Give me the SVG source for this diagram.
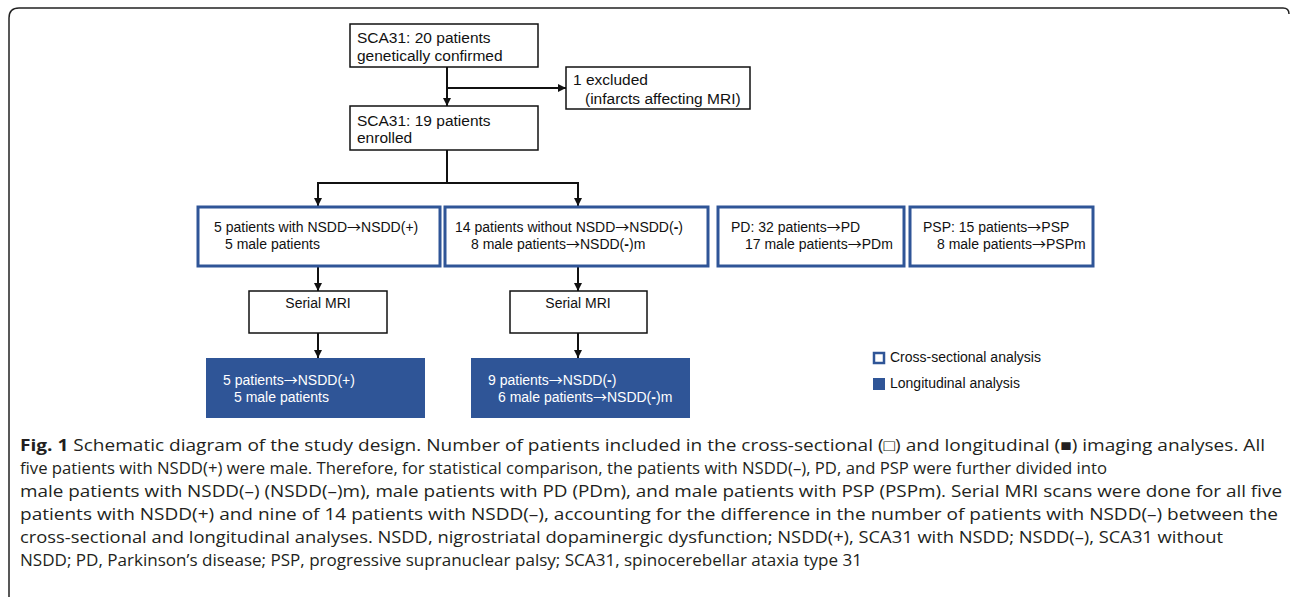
<svg xmlns="http://www.w3.org/2000/svg" width="1290" height="597" viewBox="0 0 1290 597">
<style>
.t{font-family:"Liberation Sans",Arial,sans-serif;font-size:14px;fill:#111}
.tl{font-family:"Liberation Sans",Arial,sans-serif;font-size:15.5px;fill:#111}
.w{font-family:"Liberation Sans",Arial,sans-serif;font-size:14px;fill:#fff}
.ar{font-family:"Noto Sans CJK JP",sans-serif;font-size:14px}
.box{fill:#fff;stroke:#111;stroke-width:1.5}
.bbox{fill:#fff;stroke:#2F5597;stroke-width:3}
.fbox{fill:#2F5597;stroke:none}
.con{stroke:#111;stroke-width:2;fill:none}
.cap{font-family:"Open Sans","Noto Sans",sans-serif;font-size:16px;fill:#231f20}
</style>
<defs>
<marker id="ah" markerWidth="8" markerHeight="8" refX="8" refY="4" orient="auto" markerUnits="userSpaceOnUse">
<path d="M0,0 L8,4 L0,8 z" fill="#111"/>
</marker>
</defs>
<path d="M9,597 V18 Q9,8 19,8 H1283 Q1289,8 1289,14" fill="none" stroke="#222" stroke-width="1.5"/>

<g id="connectors">
<line class="con" x1="447" y1="67" x2="447" y2="106" marker-end="url(#ah)"/>
<line class="con" x1="447" y1="88" x2="566" y2="88" marker-end="url(#ah)"/>
<polyline class="con" points="447,150 447,183"/>
<line class="con" x1="317" y1="183" x2="579" y2="183"/>
<line class="con" x1="318" y1="183" x2="318" y2="206" marker-end="url(#ah)"/>
<line class="con" x1="578" y1="183" x2="578" y2="206" marker-end="url(#ah)"/>
<line class="con" x1="318" y1="266" x2="318" y2="291" marker-end="url(#ah)"/>
<line class="con" x1="578" y1="266" x2="578" y2="291" marker-end="url(#ah)"/>
<line class="con" x1="318" y1="333" x2="318" y2="358" marker-end="url(#ah)"/>
<line class="con" x1="578" y1="333" x2="578" y2="358" marker-end="url(#ah)"/>
</g>

<g id="n-confirmed">
<rect class="box" x="350" y="24" width="188" height="43"/>
<text class="tl" x="357" y="43">SCA31: 20 patients</text>
<text class="tl" x="357" y="61">genetically confirmed</text>
</g>
<g id="n-excluded">
<rect class="box" x="566" y="67" width="184" height="42"/>
<text class="tl" x="573" y="85">1 excluded</text>
<text class="tl" x="585" y="104">(infarcts affecting MRI)</text>
</g>
<g id="n-enrolled">
<rect class="box" x="350" y="106" width="188" height="44"/>
<text class="tl" x="357" y="126">SCA31: 19 patients</text>
<text class="tl" x="357" y="143">enrolled</text>
</g>

<g id="n-nsddp">
<rect class="bbox" x="198" y="207" width="242" height="59"/>
<text class="t" x="214" y="232">5 patients with NSDD<tspan class="ar">→</tspan>NSDD(+)</text>
<text class="t" x="225" y="249">5 male patients</text>
</g>
<g id="n-nsddm">
<rect class="bbox" x="445" y="207" width="263" height="59"/>
<text class="t" x="455" y="232">14 patients without NSDD<tspan class="ar">→</tspan>NSDD(<tspan font-weight="bold">-</tspan>)</text>
<text class="t" x="471" y="249">8 male patients<tspan class="ar">→</tspan>NSDD(<tspan font-weight="bold">-</tspan>)m</text>
</g>
<g id="n-pd">
<rect class="bbox" x="718" y="207" width="186" height="59"/>
<text class="t" x="731" y="232">PD: 32 patients<tspan class="ar">→</tspan>PD</text>
<text class="t" x="745" y="249">17 male patients<tspan class="ar">→</tspan>PDm</text>
</g>
<g id="n-psp">
<rect class="bbox" x="910" y="207" width="183" height="59"/>
<text class="t" x="923" y="232">PSP: 15 patients<tspan class="ar">→</tspan>PSP</text>
<text class="t" x="937" y="249">8 male patients<tspan class="ar">→</tspan>PSPm</text>
</g>

<g id="n-mri1">
<rect class="box" x="249" y="291" width="138" height="42"/>
<text class="t" x="318" y="308" text-anchor="middle">Serial MRI</text>
</g>
<g id="n-mri2">
<rect class="box" x="510" y="291" width="137" height="42"/>
<text class="t" x="578" y="308" text-anchor="middle">Serial MRI</text>
</g>

<g id="n-long1">
<rect class="fbox" x="206" y="358" width="219" height="60"/>
<text class="w" x="223" y="385">5 patients<tspan class="ar">→</tspan>NSDD(+)</text>
<text class="w" x="234" y="402">5 male patients</text>
</g>
<g id="n-long2">
<rect class="fbox" x="471" y="358" width="219" height="60"/>
<text class="w" x="488" y="385">9 patients<tspan class="ar">→</tspan>NSDD(<tspan font-weight="bold">-</tspan>)</text>
<text class="w" x="498" y="402">6 male patients<tspan class="ar">→</tspan>NSDD(<tspan font-weight="bold">-</tspan>)m</text>
</g>

<g id="legend">
<rect x="874" y="353" width="10" height="10" fill="#fff" stroke="#2F5597" stroke-width="2.5"/>
<text class="t" x="890" y="362">Cross-sectional analysis</text>
<rect x="873" y="378" width="12" height="12" fill="#2F5597"/>
<text class="t" x="890" y="388">Longitudinal analysis</text>
</g>

<g id="caption">
<text class="cap" x="20" y="451" textLength="1245" lengthAdjust="spacingAndGlyphs"><tspan font-weight="bold">Fig. 1</tspan> Schematic diagram of the study design. Number of patients included in the cross-sectional (□) and longitudinal (■) imaging analyses. All</text>
<text class="cap" x="20" y="474" textLength="1087" lengthAdjust="spacingAndGlyphs">five patients with NSDD(+) were male. Therefore, for statistical comparison, the patients with NSDD(–), PD, and PSP were further divided into</text>
<text class="cap" x="20" y="497" textLength="1262" lengthAdjust="spacingAndGlyphs">male patients with NSDD(–) (NSDD(–)m), male patients with PD (PDm), and male patients with PSP (PSPm). Serial MRI scans were done for all five</text>
<text class="cap" x="20" y="520" textLength="1258" lengthAdjust="spacingAndGlyphs">patients with NSDD(+) and nine of 14 patients with NSDD(–), accounting for the difference in the number of patients with NSDD(–) between the</text>
<text class="cap" x="20" y="543" textLength="1203" lengthAdjust="spacingAndGlyphs">cross-sectional and longitudinal analyses. NSDD, nigrostriatal dopaminergic dysfunction; NSDD(+), SCA31 with NSDD; NSDD(–), SCA31 without</text>
<text class="cap" x="20" y="566" textLength="842" lengthAdjust="spacingAndGlyphs">NSDD; PD, Parkinson’s disease; PSP, progressive supranuclear palsy; SCA31, spinocerebellar ataxia type 31</text>
</g>
</svg>
